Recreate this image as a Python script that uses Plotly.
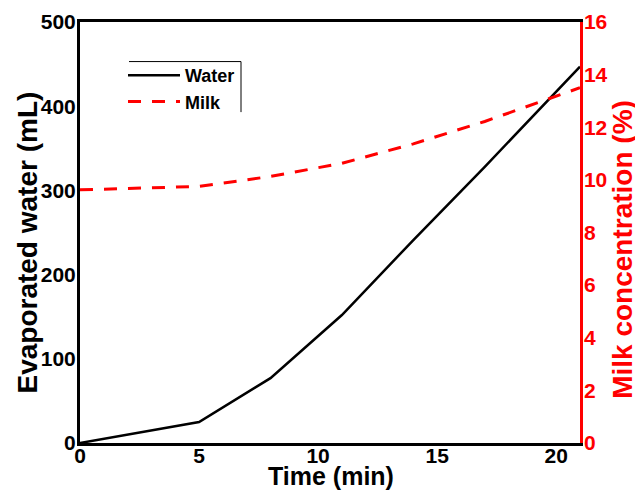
import plotly.graph_objects as go

time_min = [0, 5, 8, 11, 14, 17, 21]
water_ml = [0, 25, 77, 152, 241, 328, 447]
milk_pct = [9.62, 9.75, 10.13, 10.63, 11.37, 12.22, 13.5]

x_ticks = [0, 5, 10, 15, 20]
y_ticks = [0, 100, 200, 300, 400, 500]
y2_ticks = [0, 2, 4, 6, 8, 10, 12, 14, 16]

FONT = "Liberation Sans, Arial, sans-serif"
RED = "#ff0000"

fig = go.Figure()
fig.add_trace(go.Scatter(x=time_min, y=water_ml, name="Water", mode="lines",
                         line=dict(color="black", width=2.5)))
fig.add_trace(go.Scatter(x=time_min, y=milk_pct, name="Milk", mode="lines",
                         yaxis="y2", line=dict(color=RED, width=3, dash="13px,11px")))

tick_font = dict(size=21, family=FONT, color="black", weight="bold")

# The page body adds an 8px margin, so the figure is 8px smaller and margins shifted.
fig.update_layout(
    width=635, height=485,
    margin=dict(l=72, r=63, t=14, b=50),
    plot_bgcolor="white", paper_bgcolor="white",
    font=dict(family=FONT, color="black"),
    showlegend=True,
    legend=dict(x=0.086, y=0.917, xanchor="left", yanchor="top",
                bgcolor="rgba(0,0,0,0)", borderwidth=0,
                font=dict(size=18, family=FONT, weight="bold"),
                tracegroupgap=0, itemwidth=52),
    xaxis=dict(range=[0, 21.0], tickvals=x_ticks,
               showline=True, linecolor="black", linewidth=3, mirror=True,
               showgrid=False, zeroline=False, ticks="", ticklabelstandoff=-8,
               tickfont=tick_font, automargin=False),
    yaxis=dict(range=[0, 500], tickvals=y_ticks,
               showline=True, linecolor="black", linewidth=3,
               showgrid=False, zeroline=False, ticks="", ticklabelstandoff=-3,
               tickfont=tick_font, automargin=False),
    yaxis2=dict(range=[0, 16], tickvals=y2_ticks,
                overlaying="y", side="right",
                showline=True, linecolor=RED, linewidth=2.5,
                showgrid=False, zeroline=False, ticks="", ticklabelstandoff=-3,
                tickfont=dict(size=21, family=FONT, color=RED, weight="bold"),
                automargin=False),
    annotations=[
        dict(text="Time (min)", xref="paper", yref="paper", x=0.502, y=-0.079,
             xanchor="center", yanchor="middle", showarrow=False,
             font=dict(size=25, family=FONT, color="black", weight="bold")),
        dict(text="Evaporated water (mL)", xref="paper", yref="paper", x=-0.105, y=0.475,
             xanchor="center", yanchor="middle", showarrow=False, textangle=-90,
             font=dict(size=28, family=FONT, color="black", weight="bold")),
        dict(text="Milk concentration (%)", xref="paper", yref="paper", x=1.085, y=0.46,
             xanchor="center", yanchor="middle", showarrow=False, textangle=-90,
             font=dict(size=28, family=FONT, color=RED, weight="bold")),
    ],
    shapes=[
        dict(type="line", xref="paper", yref="paper", x0=0.098, x1=0.322, y0=0.906, y1=0.906,
             line=dict(color="black", width=1)),
        dict(type="line", xref="paper", yref="paper", x0=0.322, x1=0.322, y0=0.906, y1=0.786,
             line=dict(color="black", width=1)),
    ],
)

fig.write_html("out.html")
